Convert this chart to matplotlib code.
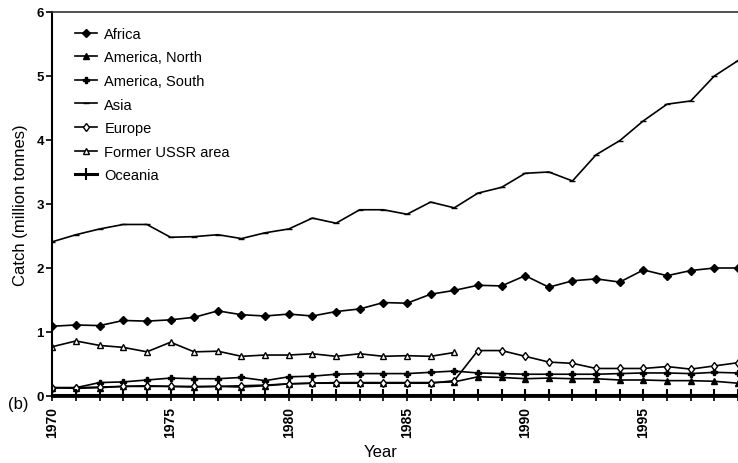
import matplotlib.pyplot as plt

plt.rcParams['font.family'] = ['Liberation Sans', 'DejaVu Sans']

years = list(range(1970, 2000))

# inland catch par continent (millions de tonnes)
africa = [1.09, 1.11, 1.10, 1.18, 1.17, 1.19, 1.23, 1.33, 1.27, 1.25,
          1.28, 1.25, 1.32, 1.36, 1.46, 1.45, 1.59, 1.65, 1.73, 1.72,
          1.88, 1.70, 1.80, 1.83, 1.78, 1.97, 1.88, 1.96, 2.00, 2.00]
america_north = [0.13, 0.12, 0.13, 0.15, 0.15, 0.15, 0.14, 0.15, 0.14, 0.16,
                 0.19, 0.20, 0.21, 0.21, 0.21, 0.21, 0.21, 0.22, 0.30, 0.29,
                 0.27, 0.28, 0.27, 0.27, 0.25, 0.25, 0.24, 0.24, 0.23, 0.20]
america_south = [0.13, 0.13, 0.21, 0.22, 0.25, 0.28, 0.27, 0.27, 0.29, 0.24,
                 0.30, 0.31, 0.34, 0.35, 0.35, 0.35, 0.37, 0.39, 0.36, 0.35,
                 0.34, 0.34, 0.34, 0.34, 0.35, 0.36, 0.36, 0.35, 0.37, 0.36]
asia = [2.41, 2.52, 2.61, 2.68, 2.68, 2.48, 2.49, 2.52, 2.46, 2.55,
        2.61, 2.78, 2.70, 2.91, 2.91, 2.84, 3.03, 2.94, 3.17, 3.26,
        3.48, 3.50, 3.36, 3.77, 3.99, 4.30, 4.56, 4.61, 5.00, 5.24]
europe = [0.13, 0.13, 0.14, 0.15, 0.16, 0.15, 0.15, 0.15, 0.16, 0.17,
          0.19, 0.20, 0.20, 0.20, 0.20, 0.20, 0.20, 0.24, 0.71, 0.71,
          0.62, 0.53, 0.51, 0.43, 0.43, 0.43, 0.46, 0.42, 0.47, 0.52]
ussr_years = list(range(1970, 1988))
ussr = [0.77, 0.86, 0.79, 0.76, 0.69, 0.84, 0.69, 0.70, 0.62, 0.64,
        0.64, 0.66, 0.62, 0.66, 0.62, 0.63, 0.62, 0.68]
oceania = [0.02] * 30

fig = plt.figure(figsize=(7.38, 4.64), dpi=100)
ax = fig.add_axes([0.0709, 0.1444, 0.9291, 0.8276])

lw = 1.2
ax.plot(years, africa, color='black', lw=lw, marker='D', ms=4.5, label='Africa')
ax.plot(years, america_north, color='black', lw=lw, marker='^', ms=5, label='America, North')
ax.plot(years, america_south, color='black', lw=lw, marker='P', ms=4, label='America, South')
ax.plot(years, asia, color='black', lw=lw, marker='_', ms=4, label='Asia')
ax.plot(years, europe, color='black', lw=lw, marker='d', ms=4.5, mfc='white', label='Europe')
ax.plot(ussr_years, ussr, color='black', lw=lw, marker='^', ms=5, mfc='white', label='Former USSR area')
ax.plot(years, oceania, color='black', lw=2.2, marker='|', ms=8, mew=1.5, label='Oceania')

ax.set_xlim(1970, 1998.84)
ax.set_ylim(0, 6)
ax.set_xticks(years)
ax.set_xticklabels([str(y) if y % 5 == 0 else '' for y in years],
                   rotation=90, fontsize=10, fontweight='bold')
ax.set_yticks(range(0, 7))
ax.set_yticklabels([str(v) for v in range(0, 7)], fontsize=9.5, fontweight='bold')
ax.tick_params(axis='x', direction='inout', length=7, width=1.2, pad=4)
ax.tick_params(axis='y', direction='out', length=4, width=1.2, pad=2)

ax.spines['right'].set_visible(False)
ax.spines['left'].set_linewidth(1.5)
ax.spines['bottom'].set_linewidth(2)
ax.spines['top'].set_linewidth(1.2)
ax.spines['top'].set_color('#333333')

ax.set_ylabel('Catch (million tonnes)', fontsize=12, labelpad=6)
fig.text(381 / 738, 1 - 453 / 464, 'Year', fontsize=12, ha='center', va='center')
fig.text(18 / 738, 1 - 405 / 464, '(b)', fontsize=12, ha='center', va='center')

ax.legend(loc='upper left', bbox_to_anchor=(0.025, 0.977), frameon=False,
          fontsize=10.5, handlelength=1.5, handletextpad=0.5, labelspacing=0.66,
          borderaxespad=0)

fig.savefig('out.png', dpi=100)
